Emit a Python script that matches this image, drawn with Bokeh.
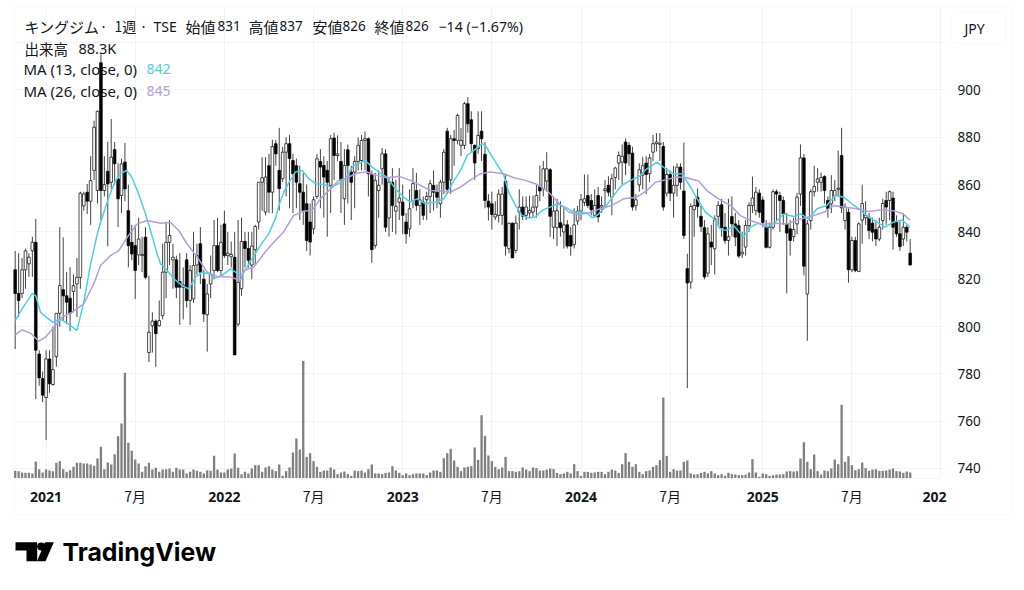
from bokeh.embed import file_html
from bokeh.models import BoxAnnotation, ColumnDataSource, FixedTicker, Label, PolyAnnotation, Range1d
from bokeh.plotting import figure
from bokeh.resources import INLINE

# weekly candles
opens = [824, 814, 814, 824, 826.5, 832, 835.6, 788.4, 778, 770,
         786.3, 775.5, 787.3, 805.6, 815.6, 813, 812, 814.8, 818, 820.8,
         851, 856.8, 853, 866, 857.5, 911.5, 857.5, 865.6, 861, 874.8,
         862.4, 855.4, 869.5, 849, 835.6, 834.2, 830.3, 830, 837.8, 789,
         800.3, 802.3, 800.3, 804.6, 823, 835.6, 828.2, 828.2, 819, 816.6,
         828.2, 811, 811.7, 826, 835, 820, 805, 818, 823.7, 834.2,
         823.7, 843.4, 830, 829.5, 829.3, 801, 816, 836, 833, 826,
         832.5, 844.2, 861, 848.4, 868, 856.8, 877.3, 866, 862.5, 873.7,
         877.3, 870.2, 868, 860.4, 856.8, 851.9, 844.2, 841.3, 855, 869.8,
         868.1, 866, 859.7, 879.7, 872.3, 869.8, 854, 874.7, 865.3, 865.3,
         869.8, 870.2, 878.7, 879.4, 864.3, 834.3, 857.5, 866.7, 873, 845.9,
         861, 848.8, 852.6, 852.6, 844.2, 841.3, 853.3, 857.5, 851.2, 852.6,
         853.6, 855, 859.7, 856.8, 851.9, 861, 882.6, 862, 879.4, 878.7,
         876.6, 876.6, 894.2, 887.4, 876.6, 875.2, 882.6, 872.8, 853, 851.9,
         846.3, 847, 847, 861.5, 832.9, 843.7, 832.2, 848.4, 850.5, 847,
         848, 848.4, 850.5, 859.2, 858.3, 861.5, 866.3, 842, 841.8, 843.9,
         840, 843, 838.5, 834.7, 844.6, 848.8, 852.5, 855.4, 853.3, 847,
         855.4, 850.5, 857.5, 859.7, 854.7, 863, 869.1, 869.5, 878, 876.6,
         873.3, 851.2, 859.9, 864, 869.1, 864.6, 873.7, 877.3, 877, 876.1,
         856.4, 864.3, 856.4, 859.7, 867.4, 857.3, 824.5, 818.8, 849.4, 854.7,
         846.6, 841.8, 822.6, 835.7, 832.9, 846.6, 851.5, 842, 836.4, 846.5,
         843.4, 842.7, 830.7, 833.6, 842.7, 851.2, 849, 856.4, 853.5, 842,
         833.5, 842, 857, 855.4, 853.3, 843.4, 841.3, 838, 843.4, 856,
         871.3, 813.8, 844.8, 857, 861, 861, 863.4, 853.3, 851.9, 855.4,
         858, 872.3, 844.8, 848.3, 824, 836.4, 823.3, 845, 846, 846.2,
         843.7, 841, 837, 844.8, 853.3, 853.3, 854.3, 844.1, 839.2, 837, 842, 831]
closes = [814, 811, 824, 832, 829.3, 835.6, 790, 778.3, 771, 786.3,
          775.8, 781.8, 805.6, 817.3, 813, 810.3, 805.6, 817.3, 820.8, 856.4,
          856, 853, 861.7, 884.3, 891, 857.5, 860, 860.3, 871.6, 868.8,
          854, 868.8, 858.2, 834.2, 830.7, 823.7, 837, 830.5, 820.8, 797.6,
          802.3, 797, 802.5, 823, 835.6, 838.5, 829.3, 816.6, 816.6, 817.6,
          811, 823.7, 825.8, 830, 823, 805.3, 813.8, 822, 834.2, 823.7,
          835.6, 830, 831, 830.5, 788, 818.7, 836, 833, 828, 834,
          842.3, 861, 862.9, 863.2, 856.8, 876.1, 873, 858.3, 873.7, 877.3,
          871, 864.6, 861, 856.8, 849, 836.4, 835.7, 853.6, 870.9, 867.4,
          863.2, 861, 879.4, 872.3, 873, 862, 868.1, 868.1, 861, 869.8,
          876.6, 878.7, 879.4, 864.6, 832.5, 861.8, 859.7, 873, 842, 861,
          851.2, 850.8, 854.4, 847, 839.2, 849.8, 860.4, 851.2, 853.6, 847,
          855, 860.4, 856.8, 854.7, 861, 873.7, 858, 879.4, 878.7, 889.2,
          878.7, 894.2, 885.7, 877.3, 869.1, 880.8, 879.4, 853.3, 850.5, 847.4,
          847.4, 856, 856, 834, 843.7, 829, 843.7, 850.5, 846.6, 850.5,
          849.1, 850.5, 855.4, 857.3, 866.7, 866.7, 846.6, 848.8, 849, 841.8,
          843, 834, 834, 843, 848.8, 853.6, 854, 851.2, 849.4, 851.2,
          846.3, 851.2, 858.2, 856.8, 862.5, 867, 872.3, 872, 869.1, 873,
          850.5, 853.6, 866.3, 868, 864.3, 871.3, 877.3, 878, 877.5, 850.5,
          864.3, 856.4, 859.7, 867.4, 861, 838.5, 818.4, 850.8, 851.2, 850.8,
          842.3, 821, 839.2, 833.6, 845.6, 851.2, 841.8, 836.4, 838, 843.4,
          837.8, 829.8, 831.4, 842.7, 851.2, 854.3, 856.8, 848.3, 844, 833.5,
          842, 857, 856, 853.3, 847.6, 839.5, 836.4, 841, 854.7, 871.3,
          825.5, 843.4, 857, 859.2, 862.4, 863, 857.5, 849.8, 857.5, 857.5,
          858.5, 850.2, 850.5, 824, 836.4, 823.7, 843.4, 852, 847, 840.6,
          839.9, 837, 842, 852, 850.5, 857, 842, 839.2, 833.8, 842, 839.9, 826]
highs = [832, 831, 829, 833, 831, 838, 845.5, 790, 781, 790,
         790, 800, 805.6, 842, 837.7, 823, 825, 822, 829, 857,
         857, 860.3, 872, 887, 891.3, 915, 872, 878, 887.8, 878,
         869, 871, 877.6, 860, 843, 843, 846, 838, 842, 821.5,
         806, 803, 811, 835, 844, 845, 835, 830, 831, 825,
         831, 826, 840, 835, 842, 824, 818, 830, 845, 846,
         843, 849, 840, 836, 840, 845, 846, 840, 840, 840,
         843, 861, 871.6, 871.6, 873, 879, 879, 884, 876, 880,
         881, 873, 871, 868, 865, 860, 852, 855, 873, 875,
         872, 870, 881, 882, 880.8, 878, 875, 877, 868, 872,
         880, 881, 882.5, 880, 866, 865, 866, 875.5, 875, 863,
         867, 862, 867, 860, 848, 858, 867, 865, 858, 855,
         857, 862, 866, 860, 862, 875, 884, 881, 883, 890,
         884, 895, 897, 891, 877, 891, 891, 878, 856, 857,
         853, 858, 859, 864, 844, 844, 847, 858, 855, 855,
         855.3, 855.3, 860, 868, 870, 873.7, 867, 855, 854, 853,
         850, 845, 842, 850, 851, 856, 864.3, 864.3, 856, 858,
         859, 855, 862, 863.5, 864.5, 867.5, 874, 877, 879.5, 878,
         876, 856, 869, 871.7, 872, 873, 881, 881.8, 881.8, 878,
         867, 866, 868, 869, 869, 877.8, 830.8, 852, 854, 858.4,
         851, 845, 842, 843, 847, 853, 854, 848, 854, 855,
         848, 845, 840, 845, 852.5, 863.4, 859, 858, 855, 845,
         844, 858, 858, 857, 855, 848, 845, 846, 856.5, 877,
         873, 845, 858, 868, 867, 865, 864, 855, 864, 862,
         874.4, 884, 852, 850, 838, 838, 844, 860, 853, 848,
         846, 845, 846, 854, 857, 857.5, 857, 847, 845, 848, 843, 837]
lows = [790.5, 804, 812, 816, 821, 821, 769.4, 775, 768, 752,
        772, 775, 783, 800, 802.5, 801, 798, 806, 804, 816,
        849, 847.6, 843, 862, 852, 845, 855, 834, 858, 860,
        842, 848, 853, 825, 828, 811.7, 826, 823, 820, 785,
        789, 783, 800, 803, 812, 826, 816, 812, 800.7, 803,
        808, 800.7, 810, 822, 818, 802, 789.4, 812, 820, 823,
        821, 829, 826, 825, 788, 800, 813, 825, 825, 820,
        826, 841, 849, 847, 848, 848, 868, 849, 861, 855,
        850, 848, 850, 845, 843, 832, 830, 839, 854, 850,
        846, 838, 848, 862, 870, 848, 843, 852, 845, 850,
        866, 866, 866, 855, 827, 833, 846, 860, 840, 838,
        840, 839, 845, 839, 835, 838, 850, 849, 843, 845,
        845, 848, 849, 850, 846, 856, 856, 856, 868, 877,
        872, 875, 882, 874, 862, 873, 870, 850, 844.8, 841,
        845, 844, 843, 830, 831, 829, 831, 841, 845, 845,
        846, 846, 846, 853, 855, 857, 838, 837, 834, 838,
        833, 833, 830, 833, 843, 845, 851, 850, 847, 846,
        844, 848, 850, 855, 847, 858, 862, 860, 864, 868,
        849, 849, 857, 858, 856, 861, 870, 874, 870, 849,
        855, 853, 846, 855, 858, 837, 774, 816, 838, 846,
        840, 820, 821, 826, 822, 843, 838, 835, 830, 838,
        834, 829, 829, 830, 840, 848, 847, 846, 842, 833,
        833, 841, 845, 840, 843, 814, 830, 836, 839, 851,
        821.6, 794, 841, 855, 857, 857, 852, 846, 848, 853,
        855, 848, 841, 818.5, 823, 823, 823, 835, 843, 837,
        836, 834, 836, 841, 843, 845, 832.5, 838, 832, 834, 836, 826]
# volume in thousands of shares
volumes = [113, 108, 88, 83, 83, 74, 250, 137, 88, 132,
           118, 108, 230, 255, 137, 98, 122, 171, 230, 230,
           220, 220, 206, 186, 294, 465, 137, 235, 206, 358,
           622, 808, 1553, 524, 407, 279, 220, 98, 181, 230,
           132, 157, 98, 132, 137, 147, 98, 157, 132, 132,
           74, 98, 132, 113, 98, 74, 122, 113, 333, 132,
           88, 88, 132, 147, 367, 157, 64, 98, 74, 147,
           196, 196, 98, 162, 181, 132, 108, 206, 39, 108,
           162, 382, 588, 426, 1730, 319, 372, 255, 172, 98,
           118, 118, 162, 132, 64, 88, 103, 64, 39, 118,
           108, 118, 88, 137, 206, 74, 74, 64, 83, 88,
           181, 118, 83, 49, 74, 49, 64, 74, 74, 74,
           49, 88, 118, 118, 98, 299, 372, 436, 265, 172,
           108, 162, 172, 181, 456, 274, 931, 627, 338, 255,
           172, 137, 162, 319, 108, 108, 98, 108, 162, 132,
           108, 162, 152, 118, 118, 132, 147, 137, 83, 64,
           74, 98, 74, 211, 108, 39, 98, 98, 83, 88,
           98, 98, 64, 98, 132, 118, 83, 211, 372, 245,
           172, 211, 98, 64, 108, 118, 172, 196, 270, 1191,
           333, 98, 137, 118, 118, 245, 265, 74, 59, 64,
           83, 98, 74, 108, 74, 49, 64, 39, 83, 64,
           59, 49, 49, 59, 88, 284, 88, 25, 74, 64,
           39, 49, 59, 59, 64, 103, 108, 103, 108, 294,
           534, 245, 137, 353, 108, 59, 118, 108, 147, 279,
           211, 1083, 245, 328, 196, 122, 137, 235, 152, 113,
           132, 137, 113, 113, 118, 132, 147, 108, 103, 83, 103, 88.3]

# moving averages, read at the bends of each line
ma13_weeks = [0, 2, 5, 6, 7.4, 9, 11, 13, 15.6, 18, 20, 22, 24, 25.4, 27.3, 29, 30.7, 32.5, 34, 36,
              38, 40, 41.4, 42.4, 44.3, 46.3, 48.7, 50.6, 52.6, 54.5, 56.5, 58.4, 60.3, 62.8, 65.7, 66.7,
              69.1, 71.5, 73.9, 75.9, 76.9, 78.3, 80.2, 81.7, 83.7, 85.6, 87.6, 90, 92, 94.4, 96.3, 98.7,
              102.1, 104.1, 106, 108.4, 110.9, 113.3, 115.2, 117.2, 119.6, 122.6, 125, 127.4, 129.9,
              131.8, 133.7, 136.2, 137.1, 139.5, 142.5, 143.9, 145.9, 147.8, 149.8, 151.7, 153.6, 156,
              158.2, 160.4, 162.9, 164.8, 166.8, 168.2, 169.7, 172.1, 174.5, 176.9, 179.4, 181.8, 184.2,
              187.2, 189.6, 192, 194.5, 196.9, 198.9, 201.3, 203.7, 205.6, 207.6, 209.5, 212.4, 214.4,
              216.8, 219.2, 221.7, 224.1, 227, 229, 231.4, 233.8, 236.7, 239.1, 241.6, 244, 246.4, 248.9,
              251.3, 253.7, 256.1, 258.5, 260.5, 261]
ma13 = [802.5, 807.5, 814, 813, 806, 804, 801.8, 803.3, 801, 798.3, 810.3, 826.5, 839.5, 846.3, 854.7, 861, 864.6, 866, 863.2, 856,
        847.7, 837.8, 830.7, 826.5, 823.7, 820.2, 817.3, 815.9, 820.9, 823, 822.3, 820.6, 821.6, 824.4, 821.6, 823,
        828.7, 834.3, 839.2, 845.6, 851.2, 856.8, 861.8, 865.3, 866, 862.5, 860.4, 860.1, 859, 860.4, 862.5, 868.1,
        870.2, 867.4, 865.3, 863.2, 858.2, 854.7, 852.6, 854, 851.9, 852.6, 854, 860.4, 866,
        872.3, 874.4, 877.3, 876.6, 870.9, 863.9, 856.8, 851.2, 847, 845.9, 846.3, 849.1, 850.5,
        851.9, 850.5, 848.4, 848.4, 848, 846, 847, 850.5, 855.4, 859.7, 861.8, 863.2, 866.7,
        869.5, 866.7, 864.6, 864.6, 859, 854, 848.4, 845.6, 841.3, 840.6, 842.7, 837.8, 842,
        843.7, 842, 844.1, 847.6, 846.5, 847.6, 845.5, 849.8, 851.2, 855.4, 854.7, 851.9, 849.3, 846.2,
        844.1, 842, 844.1, 845.1, 842.7, 842]
ma26_weeks = [0, 2, 4.5, 6.9, 8.8, 11.3, 13.7, 16.6, 20, 22.9, 24.9, 27.8, 30.2, 32.7, 35.6, 38.5, 42.4, 45.3, 47.7, 50.1,
              53.1, 56, 58.9, 62.8, 65.7, 66.7, 69.6, 72.5, 75.4, 78.3, 81.2, 84.2, 86.6, 89, 92, 94.4, 96.8, 99.7,
              102.6, 105.5, 108.4, 111.9, 115.3, 118.2, 121.1, 124, 126.9, 129.9, 132.8, 135.7, 138.6, 142.5, 145.4,
              148.3, 151.7, 155.1, 158.7, 161.4, 164.3, 167.2, 170.6, 174, 177.4, 181.2, 184.2, 186.7, 189.6, 193,
              195.9, 199.3, 201.7, 205.1, 208.6, 211.5, 214.4, 217.8, 221.2, 225.1, 229, 231.9, 235.8, 238.7, 241.6,
              245.5, 248.9, 252.3, 256.1, 259, 260.8, 261]
ma26 = [796.6, 798.6, 797.2, 793.8, 795.5, 799.7, 804, 806.1, 809.6, 818, 825.8, 830, 832.1, 837.8, 843.4, 844.8, 843.7, 844, 840.6, 835,
        829.3, 823, 821.2, 820.9, 819.5, 823.7, 825.2, 830.8, 835.7, 840, 847, 848.8, 849.1, 854, 858.2, 861.8, 862.9, 864.9,
        865.3, 863.9, 862.9, 863.5, 861.8, 859.7, 857.5, 857.3, 856.8, 859, 862, 864.6, 865.3, 864.6, 862.9,
        862, 860.4, 857.5, 851.9, 848.4, 847.4, 848, 849.8, 851.2, 854, 854.7, 857.5, 861, 862, 863.2,
        862.9, 861.5, 857.5, 854, 851.2, 846.9, 844.8, 843.1, 843.7, 843.4, 845.5, 846.5, 848.3, 851.2, 850.5,
        849.8, 848.6, 849.3, 849, 847.6, 845.1, 845]

# time axis: week index of each label
year_ticks = [9, 61, 113, 165, 218]
year_labels = ["2021", "2022", "2023", "2024", "2025"]
month_ticks = [35, 87, 139, 191, 244]
price_ticks = [740, 760, 780, 800, 820, 840, 860, 880, 900, 920]

CJK = "Noto Sans CJK JP"
LATIN = "Noto Sans"
TEXT = "#131722"
GRID = "#f3f3f3"
CANDLE = "#000000"
CYAN = "#4dd0e1"
PURPLE = "#b39ddb"
WIDTH, HEIGHT = 1016, 570
# edges of the price pane, in the units of its axes
PANE_LEFT, PANE_RIGHT = -0.5, 269.85
PANE_BOTTOM, PANE_TOP = 735.77, 935.3

up = [c >= o for o, c in zip(opens, closes)]
source = ColumnDataSource(data={
    "x": list(range(len(closes))),
    "top": [max(o, c) for o, c in zip(opens, closes)],
    "bottom": [min(o, c) for o, c in zip(opens, closes)],
    "high": highs,
    "low": lows,
    "fill": ["#ffffff" if u else CANDLE for u in up],
    "vol": volumes,
})

# the frame fills the canvas: annotations outside the frame do not get drawn
p = figure(width=WIDTH, height=HEIGHT, output_backend="svg", toolbar_location=None,
           x_range=Range1d(-4.287, 292.0), y_range=Range1d(696.88, 937.83),
           y_axis_location="right", min_border=0, outline_line_color=None,
           background_fill_color="white", border_fill_color="white")
p.extra_y_ranges = {"vol": Range1d(-1352.4, 7026.6)}

p.xaxis.fixed_location = PANE_BOTTOM
p.xaxis.bounds = (PANE_LEFT, PANE_RIGHT)
p.xaxis.ticker = FixedTicker(ticks=year_ticks)
p.xaxis.major_label_overrides = dict(zip(year_ticks, year_labels))
p.xaxis.major_label_text_font = LATIN
p.xaxis.major_label_text_font_style = "bold"
p.xaxis.major_label_text_font_size = "14px"
p.xaxis.major_label_text_color = TEXT
p.xaxis.major_label_standoff = 7
p.xaxis.axis_line_color = GRID
p.xaxis.major_tick_line_color = None
p.xaxis.minor_tick_line_color = None

p.yaxis.fixed_location = PANE_RIGHT
p.yaxis.bounds = (PANE_BOTTOM, PANE_TOP)
p.yaxis.ticker = FixedTicker(ticks=price_ticks)
p.yaxis.major_label_overrides = {920: ""}
p.yaxis.major_label_text_font = LATIN
p.yaxis.major_label_text_font_size = "13.5px"
p.yaxis.major_label_text_color = TEXT
p.yaxis.major_label_standoff = 12
p.yaxis.axis_line_color = GRID
p.yaxis.major_tick_line_color = GRID
p.yaxis.major_tick_in = 0
p.yaxis.major_tick_out = 5
p.yaxis.minor_tick_line_color = None

p.xgrid.ticker = FixedTicker(ticks=year_ticks + month_ticks)
p.xgrid.cross_bounds = (PANE_BOTTOM, PANE_TOP)
p.ygrid.ticker = FixedTicker(ticks=price_ticks)
p.ygrid.cross_bounds = (PANE_LEFT, PANE_RIGHT)
p.grid.grid_line_color = GRID


def text(s, x, y, color=TEXT, font=LATIN, size="13.5px", style="normal", align="left", level="underlay"):
    p.add_layout(Label(x=x, y=HEIGHT - y, x_units="screen", y_units="screen", text=s,
                       text_font=font, text_font_size=size, text_font_style=style,
                       text_color=color, text_align=align, text_baseline="middle", level=level))


def box(left, right, top, bottom, **kw):
    p.add_layout(BoxAnnotation(left=left, right=right, top=HEIGHT - top, bottom=HEIGHT - bottom,
                               left_units="screen", right_units="screen",
                               top_units="screen", bottom_units="screen", **kw))


# legend block, under the candles
text("キングジム", 24, 25.5, font=CJK, size="15px")
text("·", 101, 25.5, size="15px")
text("1週", 114, 25.5, font=CJK, size="14px")
text("·", 141, 25.5, size="15px")
text("TSE", 153, 25.5, size="14px")
text("始値", 185, 25.5, font=CJK, size="15px")
text("831", 217, 25.5)
text("高値", 248, 25.5, font=CJK, size="15px")
text("837", 279, 25.5)
text("安値", 312, 25.5, font=CJK, size="15px")
text("826", 342, 25.5)
text("終値", 374, 25.5, font=CJK, size="15px")
text("826", 405, 25.5)
text("−14 (−1.67%)", 438, 25.5, size="14.2px")
text("出来高", 24, 47.5, font=CJK, size="14.5px")
text("88.3K", 78, 47.5, size="14.5px")
text("MA (13, close, 0)", 23, 68.5, size="15px")
text("842", 146, 68.5, color=CYAN, size="14px")
text("MA (26, close, 0)", 23, 90.5, size="15px")
text("845", 146, 90.5, color=PURPLE, size="14px")

# candles and volume
p.vbar(x="x", top="vol", bottom=0, width=0.68, fill_color="#808080", line_color=None,
       source=source, y_range_name="vol")
p.segment(x0="x", y0="low", x1="x", y1="high", line_color="#444444", line_width=1, source=source)
p.vbar(x="x", top="top", bottom="bottom", width=0.78, fill_color="fill", line_color=CANDLE,
       line_width=0.7, source=source)

p.line(ma13_weeks, ma13, line_color=CYAN, line_width=1.5)
p.line(ma26_weeks, ma26, line_color=PURPLE, line_width=1.5)

# month labels sit on the time axis but are not bold like the years
for t in month_ticks:
    p.add_layout(Label(x=t, y=HEIGHT - 495.5, y_units="screen", text="7月", text_font=CJK,
                       text_font_size="14px", text_color=TEXT, text_align="center",
                       text_baseline="middle"))
text("202", 922, 496.5, size="14px", style="bold", level="annotation")

# outer frame and currency button
box(13, 1010.5, 6, 514, fill_alpha=0, line_color=GRID, line_width=1.5, level="underlay")
box(950.5, 1005, 12, 43, fill_color="white", line_color="#ebebeb", line_width=1.2, border_radius=6)
text("JPY", 974, 27.5, size="14px", align="center", level="annotation")

# TradingView logo
for xs, ys in [([15, 36.7, 36.7, 26, 26, 15], [541.7, 541.7, 560.8, 560.8, 550, 550]),
               ([44.5, 53.3, 45, 36.5], [541.7, 541.7, 560.8, 560.8])]:
    p.add_layout(PolyAnnotation(xs=xs, ys=[HEIGHT - v for v in ys], xs_units="screen", ys_units="screen",
                                fill_color="#000000", fill_alpha=1, line_alpha=0))
box(36.7, 44.7, 542, 550, fill_color="#000000", fill_alpha=1, line_alpha=0, border_radius=4)
text("TradingView", 62, 551.5, color="#000000", font="Inter", size="24.8px", style="bold", level="annotation")

open("out.html", "w").write(file_html(p, INLINE))
